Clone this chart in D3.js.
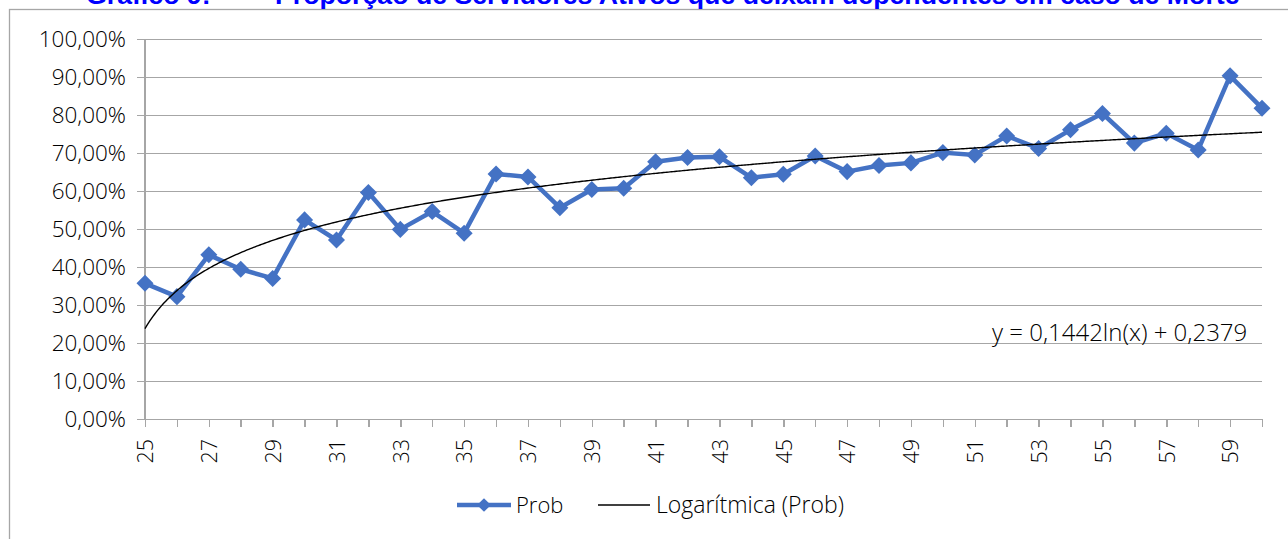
<!DOCTYPE html>
<html>
<head>
<meta charset="utf-8">
<script src="https://cdn.jsdelivr.net/npm/d3@7"></script>
<style>
  html, body { margin: 0; padding: 0; background: #fff; overflow: hidden; }
  svg { display: block; }
  .lbl { font-family: "Open Sans", "Noto Sans", sans-serif; font-weight: 300; fill: #000; }
</style>
</head>
<body>
<svg id="chart" width="1288" height="539"></svg>
<script>
// ---- data ----
const categories = [25,26,27,28,29,30,31,32,33,34,35,36,37,38,39,40,41,42,43,44,45,46,47,48,49,50,51,52,53,54,55,56,57,58,59,60];
const prob = [0.357,0.322,0.432,0.394,0.370,0.524,0.471,0.596,0.499,0.546,0.489,0.645,0.637,0.556,0.604,0.607,0.677,0.688,0.690,0.635,0.644,0.692,0.651,0.667,0.674,0.701,0.695,0.745,0.712,0.761,0.804,0.726,0.752,0.708,0.903,0.818];
const yTicks = [0,0.1,0.2,0.3,0.4,0.5,0.6,0.7,0.8,0.9,1.0];
const xTickLabels = [25,27,29,31,33,35,37,39,41,43,45,47,49,51,53,55,57,59];
const trendCoef = { a: 0.1442, b: 0.2379 }; // y = a*ln(x) + b, x = 1..n
const titleLeft = "Gráfico 9:";
const titleMain = "Proporção de Servidores Ativos que deixam dependentes em caso de Morte";
const seriesName = "Prob";
const trendName = "Logarítmica (Prob)";
const equationText = "y = 0,1442ln(x) + 0,2379";

// ---- layout ----
const svg = d3.select("#chart");
const plot = { left: 145, right: 1262, top: 39, bottom: 419 };
const blue = "#4472C4";
const grid = "#a6a6a6";

// chart frame
svg.append("rect")
  .attr("x", 9.5).attr("y", 9.5)
  .attr("width", 2000).attr("height", 2000)
  .attr("fill", "none").attr("stroke", grid).attr("stroke-width", 1.3);

// title (its upper part lies above the page edge, as in the reference)
svg.append("text").attr("x", 86).attr("y", 4)
  .attr("font-family", "'Liberation Sans', Arial, sans-serif").attr("font-weight", "bold")
  .attr("font-size", 26.7).attr("fill", "#0000FF").text(titleLeft);
svg.append("text").attr("x", 275).attr("y", 4)
  .attr("font-family", "'Liberation Sans', Arial, sans-serif").attr("font-weight", "bold")
  .attr("font-size", 26.7).attr("fill", "#0000FF").text(titleMain);

const x = d3.scalePoint().domain(categories).range([plot.left, plot.right]);
const y = d3.scaleLinear().domain([0, 1]).range([plot.bottom, plot.top]);

const fmt = v => d3.format(".2f")(v * 100).replace(".", ",") + "%";

// y gridlines + labels
const yAxis = d3.axisLeft(y).tickValues(yTicks)
  .tickSize(-(plot.right - plot.left)).tickSizeOuter(0).tickPadding(19).tickFormat(fmt);
const gy = svg.append("g").attr("transform", `translate(${plot.left},0)`).call(yAxis);
gy.select(".domain").remove();
gy.selectAll(".tick line").attr("stroke", grid).attr("stroke-width", 1.5).attr("x1", -8).attr("shape-rendering", "crispEdges");
gy.selectAll(".tick text").attr("class", "lbl").attr("font-size", 22.5).attr("dy", "0.35em");

// vertical axis line
svg.append("line")
  .attr("x1", plot.left).attr("x2", plot.left)
  .attr("y1", y(1)).attr("y2", y(0))
  .attr("stroke", grid).attr("stroke-width", 1.5).attr("shape-rendering", "crispEdges");

// x axis with ticks at each category
const xAxis = d3.axisBottom(x).tickSize(8).tickSizeOuter(0).tickPadding(12)
  .tickFormat(d => xTickLabels.includes(d) ? String(d) : "");
const gx = svg.append("g").attr("transform", `translate(0,${plot.bottom})`).call(xAxis);
gx.select(".domain").attr("stroke", grid).attr("stroke-width", 1.5).attr("shape-rendering", "crispEdges");
gx.selectAll(".tick line").attr("stroke", grid).attr("stroke-width", 1.5).attr("shape-rendering", "crispEdges");
gx.selectAll(".tick text").attr("class", "lbl").attr("font-size", 21.5)
  .attr("transform", "rotate(-90)")
  .attr("text-anchor", "end")
  .attr("x", -20).attr("y", 0).attr("dy", "0.36em");

// series line
const line = d3.line().x((d, i) => x(categories[i])).y(d => y(d));
svg.append("path").datum(prob)
  .attr("d", line).attr("fill", "none")
  .attr("stroke", blue).attr("stroke-width", 4.5).attr("stroke-linejoin", "round");

// diamonds
const diamond = d3.symbol().type(d3.symbolDiamond2).size(185);
svg.append("g").selectAll("path").data(prob).join("path")
  .attr("d", diamond)
  .attr("transform", (d, i) => `translate(${x(categories[i])},${y(d)})`)
  .attr("fill", blue);

// logarithmic trendline (from the fitted equation)
const n = categories.length;
const xi = d3.scaleLinear().domain([1, n]).range([plot.left, plot.right]);
const trendPts = d3.range(1, n + 0.0001, 0.05);
svg.append("path").datum(trendPts)
  .attr("d", d3.line().x(t => xi(t)).y(t => y(trendCoef.a * Math.log(t) + trendCoef.b)))
  .attr("fill", "none").attr("stroke", "#000").attr("stroke-width", 1.4);

// equation label
svg.append("text").attr("class", "lbl").attr("x", 992).attr("y", 333)
  .attr("dy", "0.35em").attr("font-size", 24).text(equationText);

// legend
const ly = 505;
svg.append("line").attr("x1", 457).attr("x2", 511).attr("y1", ly).attr("y2", ly)
  .attr("stroke", blue).attr("stroke-width", 4.5);
svg.append("path").attr("d", d3.symbol().type(d3.symbolDiamond2).size(120))
  .attr("transform", `translate(484,${ly})`).attr("fill", blue);
svg.append("text").attr("class", "lbl").attr("x", 516).attr("y", ly).attr("dy", "0.35em")
  .attr("font-size", 22).text(seriesName);
svg.append("line").attr("x1", 598).attr("x2", 650).attr("y1", ly).attr("y2", ly)
  .attr("stroke", "#000").attr("stroke-width", 1.3);
svg.append("text").attr("class", "lbl").attr("x", 656).attr("y", ly).attr("dy", "0.35em")
  .attr("font-size", 23).text(trendName);
</script>
</body>
</html>
